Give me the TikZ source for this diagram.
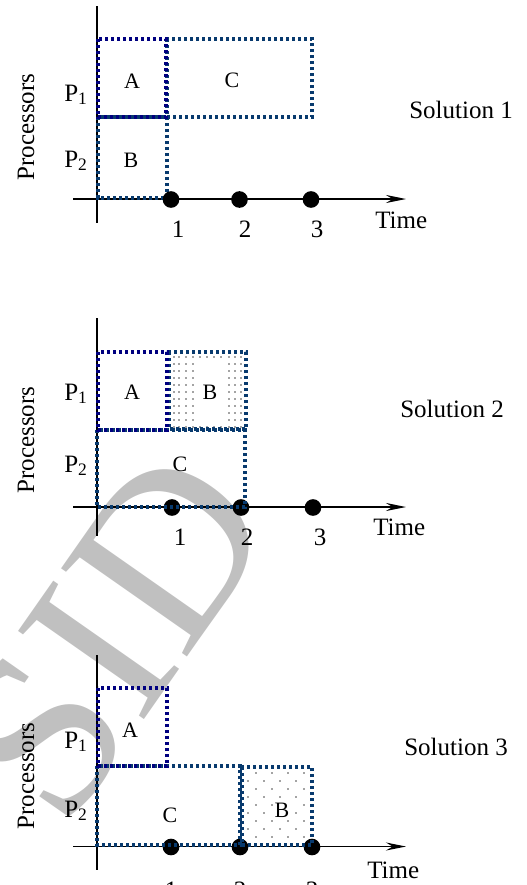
\documentclass[tikz,border=0pt]{standalone}
\usepackage{fontspec}
\setmainfont{Liberation Serif}
\usetikzlibrary{arrows.meta}

\definecolor{taskA}{RGB}{0,0,128}
\definecolor{taskO}{RGB}{8,58,110}
\definecolor{wmark}{RGB}{192,192,192}
\definecolor{stipple}{RGB}{70,70,70}

\tikzset{
  axisline/.style={line width=1.1pt, black},
  timeaxis/.style={axisline, -{Stealth[length=15pt,width=6pt,inset=5pt]}},
  slot/.style={line width=2.6pt, dash pattern=on 2.6pt off 1.9pt},
  slotA/.style={slot, draw=taskA},
  slotO/.style={slot, draw=taskO},
  tick/.style={circle, fill=black, inner sep=0pt, minimum size=12.5pt},
  lbl/.style={font=\fontsize{18.75}{20}\selectfont, inner sep=0pt},
  job/.style={font=\fontsize{16.5}{18}\selectfont, inner sep=0pt},
  ylab/.style={lbl, rotate=90},
  stip/.style={fill=stipple},
  wm/.style={text=wmark, font=\fontsize{176}{176}\selectfont, inner sep=0pt},
}

\begin{document}
\begin{tikzpicture}[x=0.75pt, y=-0.75pt]
  \useasboundingbox (0,0) rectangle (527,885);
  \clip (0,0) rectangle (527,885);

  % background stamp
  \node[wm, rotate=55] (stamp) at (110,635) {SID};

  % ---------------- Solution 1 ----------------
  \coordinate (y1t) at (97,6);   \coordinate (y1b) at (97,223);
  \coordinate (x1l) at (73,199); \coordinate (x1r) at (406,199);
  \draw[axisline] (y1t) -- (y1b);
  \draw[timeaxis] (x1l) -- (x1r);

  \draw[slotO] (98,117) rectangle (167,198);          % B
  \draw[slotO] (167,39) rectangle (312,117);          % C
  \draw[slotA] (98,39) rectangle (166,117);           % A

  \node[tick] (t11) at (171,199.5) {};
  \node[tick] (t12) at (239.5,199.5) {};
  \node[tick] (t13) at (311,199.5) {};

  \node[job, anchor=base] (a1) at (132,88) {A};
  \node[job, anchor=base] (c1) at (232,87) {C};
  \node[job, anchor=base] (b1) at (131,167) {B};

  \node[lbl, anchor=base] (n11) at (178,237) {1};
  \node[lbl, anchor=base] (n12) at (245,237) {2};
  \node[lbl, anchor=base] (n13) at (317,237) {3};
  \node[lbl, anchor=base west] (time1) at (375,228) {Time};
  \node[lbl, anchor=base west] (sol1) at (409,118) {Solution 1};
  \node[lbl, anchor=base west] (p11) at (64,101) {P\textsubscript{1}};
  \node[lbl, anchor=base west] (p12) at (64,167) {P\textsubscript{2}};
  \node[ylab] (proc1) at (26,127) {Processors};

  % ---------------- Solution 2 ----------------
  \coordinate (y2t) at (97,318); \coordinate (y2b) at (97,536);
  \coordinate (x2l) at (73,507); \coordinate (x2r) at (406,507);
  \draw[axisline] (y2t) -- (y2b);
  \draw[timeaxis] (x2l) -- (x2r);

  \node[tick] (t21) at (172,507.5) {};
  \node[tick] (t22) at (241,507.5) {};
  \node[tick] (t23) at (313,507.5) {};

  % stippled fill of B
  \foreach \xx in {174,179,186,193,229,235,241}
    \foreach \yy in {357,364,...,427}
      \fill[stip] (\xx,\yy) circle (0.6pt);
  \foreach \xx in {200,207,214,221}
    \foreach \yy in {357,427}
      \fill[stip] (\xx,\yy) circle (0.6pt);

  \draw[slotO] (97,430) rectangle (245,507);          % C
  \draw[slotO] (169,352) rectangle (246,429);         % B
  \draw[slotA] (98,352) rectangle (167,430);          % A

  \node[job, anchor=base] (a2) at (132,399) {A};
  \node[job, anchor=base, fill=white, inner sep=1.5pt] (b2) at (210,399) {B};
  \node[job, anchor=base] (c2) at (180,471) {C};

  \node[lbl, anchor=base] (n21) at (180,545) {1};
  \node[lbl, anchor=base] (n22) at (247,545) {2};
  \node[lbl, anchor=base] (n23) at (320,545) {3};
  \node[lbl, anchor=base west] (time2) at (373,535) {Time};
  \node[lbl, anchor=base west] (sol2) at (400,417) {Solution 2};
  \node[lbl, anchor=base west] (p21) at (64,400) {P\textsubscript{1}};
  \node[lbl, anchor=base west] (p22) at (64,472) {P\textsubscript{2}};
  \node[ylab] (proc2) at (26,440) {Processors};

  % ---------------- Solution 3 ----------------
  \coordinate (y3t) at (97,655); \coordinate (y3b) at (97,870);
  \coordinate (x3l) at (73,846.5); \coordinate (x3r) at (406,846.5);
  \draw[axisline] (y3t) -- (y3b);
  \draw[timeaxis] (x3l) -- (x3r);

  \node[tick] (t31) at (171,847) {};
  \node[tick] (t32) at (240,847) {};
  \node[tick] (t33) at (312,847) {};

  % stippled fill of B
  \foreach \yy [count=\r] in {773,781,...,837}
    \foreach \xx in {248,264,280,296}
      \fill[stip] ({\xx+8*mod(\r,2)},\yy) circle (0.6pt);

  \draw[slotO] (97,766) rectangle (240,845);          % C
  \draw[slotO] (242,767) rectangle (312,845);         % B
  \draw[slotA] (98,688) rectangle (167,766);          % A

  \node[job, anchor=base] (a3) at (130,737) {A};
  \node[job, anchor=base] (c3) at (170,822) {C};
  \node[job, anchor=base, fill=white, inner sep=1.5pt] (b3) at (282,817) {B};

  \node[lbl, anchor=base] (n31) at (171,898) {1};
  \node[lbl, anchor=base] (n32) at (240,898) {2};
  \node[lbl, anchor=base] (n33) at (312,898) {3};
  \node[lbl, anchor=base west] (time3) at (367,878) {Time};
  \node[lbl, anchor=base west] (sol3) at (404,755) {Solution 3};
  \node[lbl, anchor=base west] (p31) at (64,748) {P\textsubscript{1}};
  \node[lbl, anchor=base west] (p32) at (64,817) {P\textsubscript{2}};
  \node[ylab] (proc3) at (26,776) {Processors};
\end{tikzpicture}
\end{document}
